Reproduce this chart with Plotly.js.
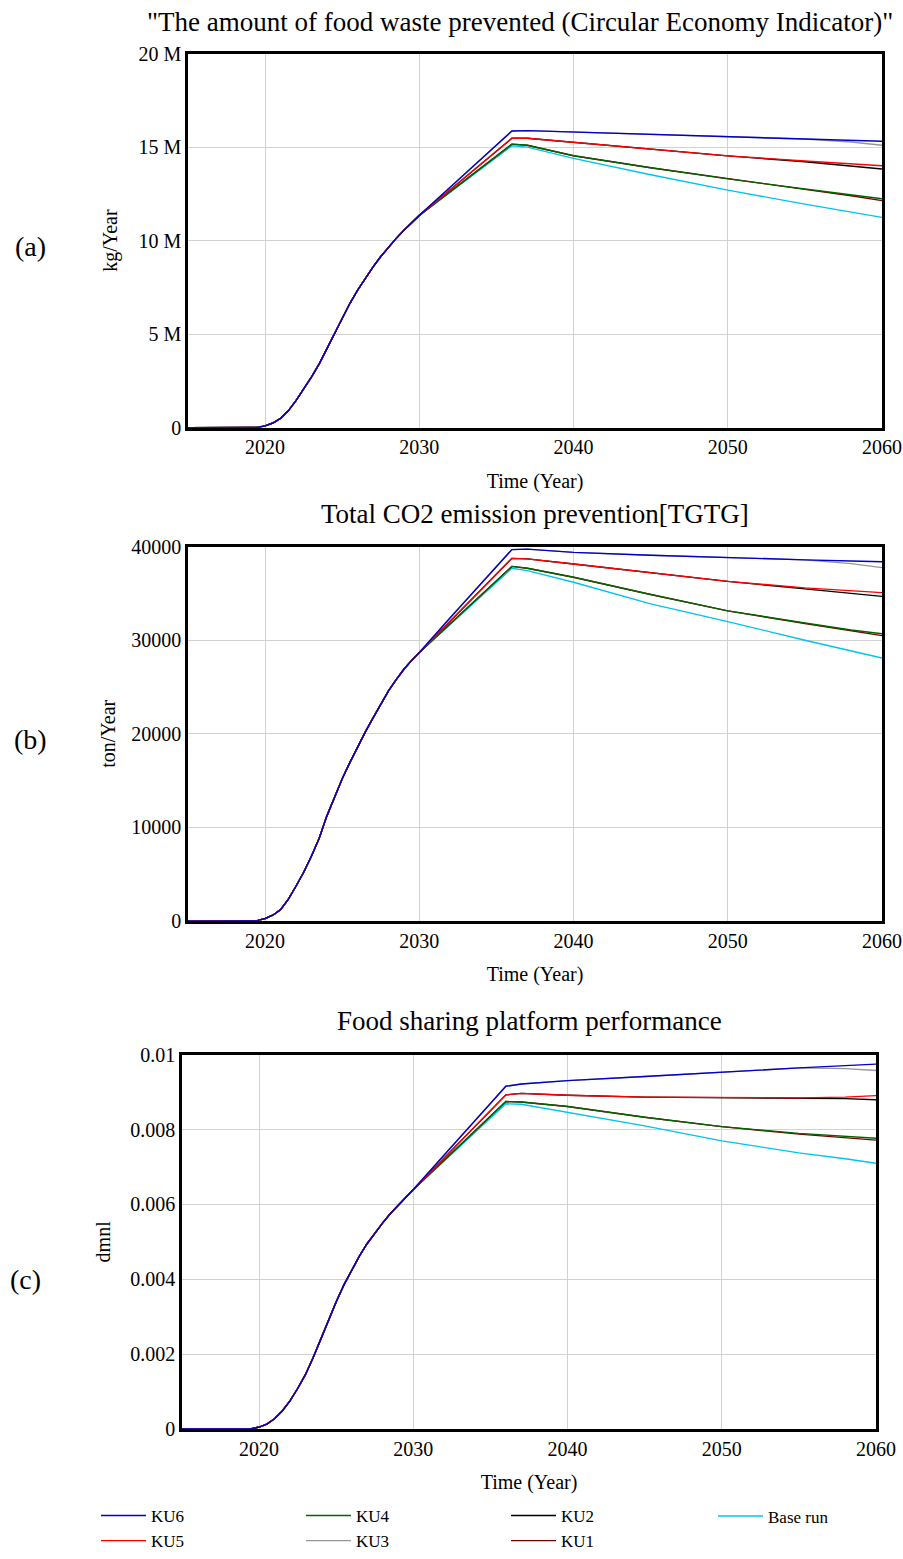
<!DOCTYPE html>
<html>
<head>
<meta charset="utf-8">
<script src="https://cdn.plot.ly/plotly-3.0.1.min.js"></script>
<style>html,body{margin:0;padding:0;background:#fff;}#chart{width:903px;height:1559px;}</style>
</head>
<body>
<div id="chart"></div>
<script>
// ---------------- data ----------------
const yearsRise = [2015, 2019, 2019.5, 2020, 2020.5, 2021, 2021.5, 2022, 2022.5, 2023, 2023.5, 2024, 2024.5,
                   2025, 2025.5, 2026, 2026.5, 2027, 2027.5, 2028, 2028.5, 2029, 2029.5, 2030];
const yearsTail = [2032, 2034, 2036, 2037, 2040, 2045, 2050, 2055, 2058, 2060];

// (a) food waste prevented, million kg/Year
const foodRise = [0, 0, 0.01, 0.1, 0.25, 0.5, 0.9, 1.45, 2.05, 2.7, 3.4, 4.2, 5.0,
                  5.85, 6.65, 7.35, 8.0, 8.6, 9.15, 9.65, 10.12, 10.55, 10.96, 11.35];
const foodKU6  = [12.85, 14.36, 15.86, 15.88, 15.81, 15.68, 15.55, 15.43, 15.37, 15.31];
const foodKU5  = [12.72, 14.10, 15.47, 15.47, 15.25, 14.87, 14.53, 14.26, 14.10, 14.00];
const foodKU4  = [12.62, 13.89, 15.16, 15.10, 14.54, 13.90, 13.30, 12.76, 12.45, 12.24];
const foodKU3  = [12.85, 14.36, 15.86, 15.88, 15.81, 15.68, 15.55, 15.43, 15.27, 15.10];
const foodKU2  = [12.72, 14.10, 15.47, 15.47, 15.25, 14.87, 14.53, 14.22, 14.00, 13.83];
const foodKU1  = [12.62, 13.89, 15.16, 15.10, 14.54, 13.90, 13.30, 12.74, 12.40, 12.14];
const foodBase = [12.59, 13.83, 15.07, 15.00, 14.40, 13.52, 12.70, 11.95, 11.52, 11.24];

// (b) total CO2 emission prevention, ton/Year
const co2Rise = [0, 0, 30, 250, 600, 1200, 2300, 3700, 5200, 6900, 8800, 11200, 13300,
                 15200, 16950, 18600, 20200, 21700, 23150, 24600, 25800, 26900, 27850, 28700];
const co2KU6  = [32400, 36050, 39700, 39750, 39400, 39100, 38820, 38600, 38480, 38400];
const co2KU5  = [32050, 35400, 38760, 38700, 38160, 37200, 36300, 35600, 35300, 35100];
const co2KU4  = [31770, 34830, 37900, 37700, 36740, 34900, 33150, 31850, 31100, 30700];
const co2KU3  = [32400, 36050, 39700, 39750, 39400, 39100, 38820, 38600, 38200, 37770];
const co2KU2  = [32050, 35400, 38760, 38700, 38160, 37200, 36300, 35500, 35000, 34700];
const co2KU1  = [31770, 34830, 37900, 37700, 36740, 34900, 33150, 31800, 31000, 30500];
const co2Base = [31700, 34700, 37700, 37450, 36200, 33900, 32000, 30000, 28900, 28100];

// (c) food sharing platform performance, dmnl
const perfRise = [0, 0, 0.000005, 0.00005, 0.00013, 0.00027, 0.00048, 0.00075, 0.00108, 0.00145, 0.0019, 0.0024, 0.00292,
                  0.0034, 0.00385, 0.00425, 0.00462, 0.00495, 0.00524, 0.0055, 0.00575, 0.00597, 0.00619, 0.0064];
const perfKU6  = [0.00732, 0.00824, 0.00916, 0.00922, 0.00931, 0.00942, 0.00954, 0.00965, 0.00971, 0.00975];
const perfKU5  = [0.00724, 0.00809, 0.00893, 0.00897, 0.00892, 0.00887, 0.00885, 0.00885, 0.00887, 0.00891];
const perfKU4  = [0.00718, 0.00797, 0.00875, 0.00874, 0.00862, 0.00833, 0.00808, 0.00790, 0.00782, 0.00777];
const perfKU3  = [0.00732, 0.00824, 0.00916, 0.00922, 0.00931, 0.00942, 0.00954, 0.00965, 0.00963, 0.00958];
const perfKU2  = [0.00724, 0.00809, 0.00893, 0.00897, 0.00892, 0.00887, 0.00885, 0.00885, 0.00883, 0.00880];
const perfKU1  = [0.00718, 0.00797, 0.00875, 0.00874, 0.00862, 0.00833, 0.00808, 0.00788, 0.00778, 0.00772];
const perfBase = [0.00716, 0.00793, 0.00869, 0.00868, 0.00846, 0.00810, 0.00770, 0.00738, 0.00722, 0.00710];

const seriesNames = ['Base run', 'KU1', 'KU2', 'KU3', 'KU4', 'KU5', 'KU6'];
const seriesColors = ['#00c3f0', '#7a0000', '#000000', '#969696', '#006400', '#ff0000', '#0000cc'];
const seriesLegend = ['legend4', 'legend3', 'legend3', 'legend2', 'legend2', 'legend', 'legend'];
const seriesRank = [1, 2, 1, 2, 1, 2, 1];

const panels = [
  {rise: foodRise, tails: [foodBase, foodKU1, foodKU2, foodKU3, foodKU4, foodKU5, foodKU6], xa: 'x', ya: 'y'},
  {rise: co2Rise, tails: [co2Base, co2KU1, co2KU2, co2KU3, co2KU4, co2KU5, co2KU6], xa: 'x2', ya: 'y2'},
  {rise: perfRise, tails: [perfBase, perfKU1, perfKU2, perfKU3, perfKU4, perfKU5, perfKU6], xa: 'x3', ya: 'y3'}
];

// ---------------- traces ----------------
const FONT = 'Liberation Serif, Times New Roman, serif';
const traces = [];
panels.forEach((p, pi) => {
  p.tails.forEach((tail, si) => {
    traces.push({
      type: 'scatter', mode: 'lines',
      x: yearsRise.concat(yearsTail),
      y: p.rise.concat(tail),
      name: seriesNames[si],
      line: {color: seriesColors[si], width: 1.4},
      xaxis: p.xa, yaxis: p.ya,
      legend: seriesLegend[si],
      legendrank: seriesRank[si],
      legendgroup: seriesNames[si],
      showlegend: pi === 0,
      hoverinfo: 'x+y+name'
    });
  });
});

// ---------------- layout ----------------
const W = 903, H = 1559;
const px = v => v / W;
const py = v => 1 - v / H;

function xAxis(l, r, anchor) {
  return {
    domain: [px(l), px(r)], anchor: anchor,
    range: [2015, 2060], tickvals: [2020, 2030, 2040, 2050, 2060],
    showgrid: true, gridcolor: '#d2d2d2', gridwidth: 1.2,
    showline: true, mirror: true, linecolor: '#000', linewidth: 2.5,
    ticks: '', zeroline: false,
    tickfont: {family: FONT, size: 20, color: '#000'},
    title: {text: 'Time (Year)', font: {family: FONT, size: 20, color: '#000'}, standoff: 17}
  };
}
function yAxis(t, b, anchor, range, vals, text, title, standoff) {
  return {
    domain: [py(b), py(t)], anchor: anchor,
    range: range, tickvals: vals, ticktext: text,
    showgrid: true, gridcolor: '#d2d2d2', gridwidth: 1.2,
    showline: true, mirror: true, linecolor: '#000', linewidth: 2.5,
    ticks: '', zeroline: false,
    tickfont: {family: FONT, size: 20, color: '#000'},
    title: {text: title, font: {family: FONT, size: 20, color: '#000'}, standoff: standoff}
  };
}

const legendBase = (x) => ({
  x: px(x), y: py(1510), xanchor: 'left', yanchor: 'top',
  orientation: 'v', bgcolor: 'rgba(0,0,0,0)', borderwidth: 0,
  font: {family: FONT, size: 17, color: '#000'}, itemwidth: 45,
  traceorder: 'normal'
});

const layout = {
  width: W, height: H,
  margin: {l: 0, r: 0, t: 0, b: 0},
  paper_bgcolor: '#fff', plot_bgcolor: '#fff',
  font: {family: FONT, color: '#000'},
  xaxis: xAxis(188, 882, 'y'),
  yaxis: yAxis(54, 431, 'x', [0, 20], [0, 5, 10, 15, 20], ['0', '5 M', '10 M', '15 M', '20 M'], 'kg/Year', 16),
  xaxis2: xAxis(188, 882, 'y2'),
  yaxis2: yAxis(551, 928, 'x2', [0, 40000], [0, 10000, 20000, 30000, 40000], ['0', '10000', '20000', '30000', '40000'], 'ton/Year', 11),
  xaxis3: xAxis(182, 876, 'y3'),
  yaxis3: yAxis(1063, 1440, 'x3', [0, 0.01], [0, 0.002, 0.004, 0.006, 0.008, 0.01], ['0', '0.002', '0.004', '0.006', '0.008', '0.01'], 'dmnl', 15),
  legend: legendBase(96),
  legend2: legendBase(301),
  legend3: legendBase(506),
  legend4: legendBase(713),
  showlegend: true,
  annotations: [
    {text: '"The amount of food waste prevented (Circular Economy Indicator)"', x: px(520), y: py(22)},
    {text: 'Total CO2 emission prevention[TGTG]', x: px(535), y: py(518)},
    {text: 'Food sharing platform performance', x: px(529), y: py(1029)},
    {text: '(a)', x: px(30), y: py(248), font: {family: FONT, size: 28, color: '#000'}},
    {text: '(b)', x: px(30), y: py(745), font: {family: FONT, size: 28, color: '#000'}},
    {text: '(c)', x: px(25), y: py(1289), font: {family: FONT, size: 28, color: '#000'}}
  ].map(a => Object.assign({xref: 'paper', yref: 'paper', xanchor: 'center', yanchor: 'middle', showarrow: false,
    font: {family: FONT, size: 27, color: '#000'}}, a))
};

Plotly.newPlot('chart', traces, layout, {displayModeBar: false, responsive: false});
</script>
</body>
</html>
